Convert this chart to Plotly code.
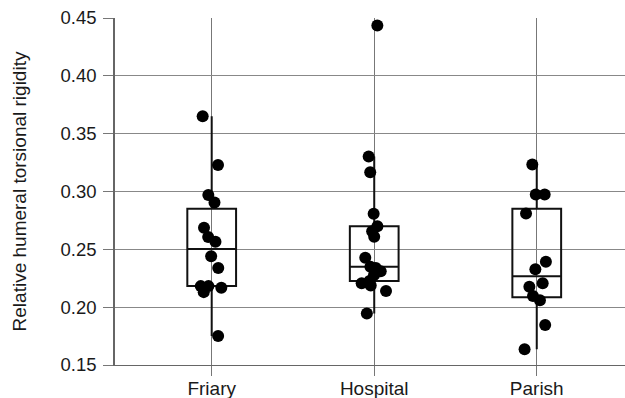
import numpy as np
import plotly.graph_objects as go

categories = ["Friary", "Hospital", "Parish"]
friary = [0.365, 0.323, 0.297, 0.2905, 0.2687, 0.2607, 0.2566, 0.2441, 0.2338,
          0.2182, 0.2168, 0.2130, 0.2182, 0.175]
hospital = [0.4436, 0.3302, 0.3167, 0.2807, 0.2700, 0.2657, 0.2609, 0.2427, 0.2350,
            0.2338, 0.2310, 0.2277, 0.2226, 0.2206, 0.2188, 0.2139, 0.1946]
parish = [0.3233, 0.2974, 0.2974, 0.281, 0.2393, 0.2327, 0.2206, 0.2177, 0.2096,
          0.2059, 0.1846, 0.1636]
groups = [friary, hospital, parish]
y_ticks = [0.15, 0.20, 0.25, 0.30, 0.35, 0.40, 0.45]


def box_stats(vals):
    v = np.asarray(vals)
    q1, med, q3 = np.percentile(v, [25, 50, 75])
    iqr = q3 - q1
    lo = v[v >= q1 - 1.5 * iqr].min()
    hi = v[v <= q3 + 1.5 * iqr].max()
    return q1, med, q3, lo, hi


st = [box_stats(g) for g in groups]

fig = go.Figure()
fig.add_trace(go.Box(
    x=categories,
    q1=[s[0] for s in st], median=[s[1] for s in st], q3=[s[2] for s in st],
    lowerfence=[s[3] for s in st], upperfence=[s[4] for s in st],
    fillcolor="rgba(0,0,0,0)", line=dict(color="#111111", width=2),
    whiskerwidth=0, width=0.3, showlegend=False, boxpoints=False,
))

xs, ys = [], []
for c, g in zip(categories, groups):
    xs += [c] * len(g)
    ys += g
fig.add_trace(go.Box(
    x=xs, y=ys, boxpoints="all", jitter=0.6, pointpos=0,
    fillcolor="rgba(0,0,0,0)", line=dict(color="rgba(0,0,0,0)", width=0),
    whiskerwidth=0, width=0.3, showlegend=False,
    marker=dict(color="#000000", size=12),
))

font = "Arial, Liberation Sans, sans-serif"
fig.update_layout(
    width=625, height=398,
    margin=dict(l=115, r=0, t=18, b=33),
    paper_bgcolor="white", plot_bgcolor="white",
    boxmode="overlay",
    font=dict(family=font, size=19, color="#1a1a1a"),
    xaxis=dict(
        type="category", categoryorder="array", categoryarray=categories,
        range=[-0.595, 2.543], showgrid=True, gridcolor="#777777", gridwidth=1,
        ticks="outside", ticklen=10, tickcolor="#777777",
        showline=True, linecolor="#666666", linewidth=1,
        tickfont=dict(size=19), automargin=False, ticklabelstandoff=-4,
    ),
    yaxis=dict(
        range=[0.15, 0.45], tickvals=y_ticks, tickformat=".2f",
        showgrid=True, gridcolor="#888888", gridwidth=1,
        ticks="outside", ticklen=10, tickcolor="#777777",
        showline=True, linecolor="#666666", linewidth=1.5,
        zeroline=False, tickfont=dict(size=18.5), automargin=False,
        ticklabelstandoff=3,
        title=dict(text="Relative humeral torsional rigidity", font=dict(size=19), standoff=29),
    ),
)

fig.write_html("out.html")
